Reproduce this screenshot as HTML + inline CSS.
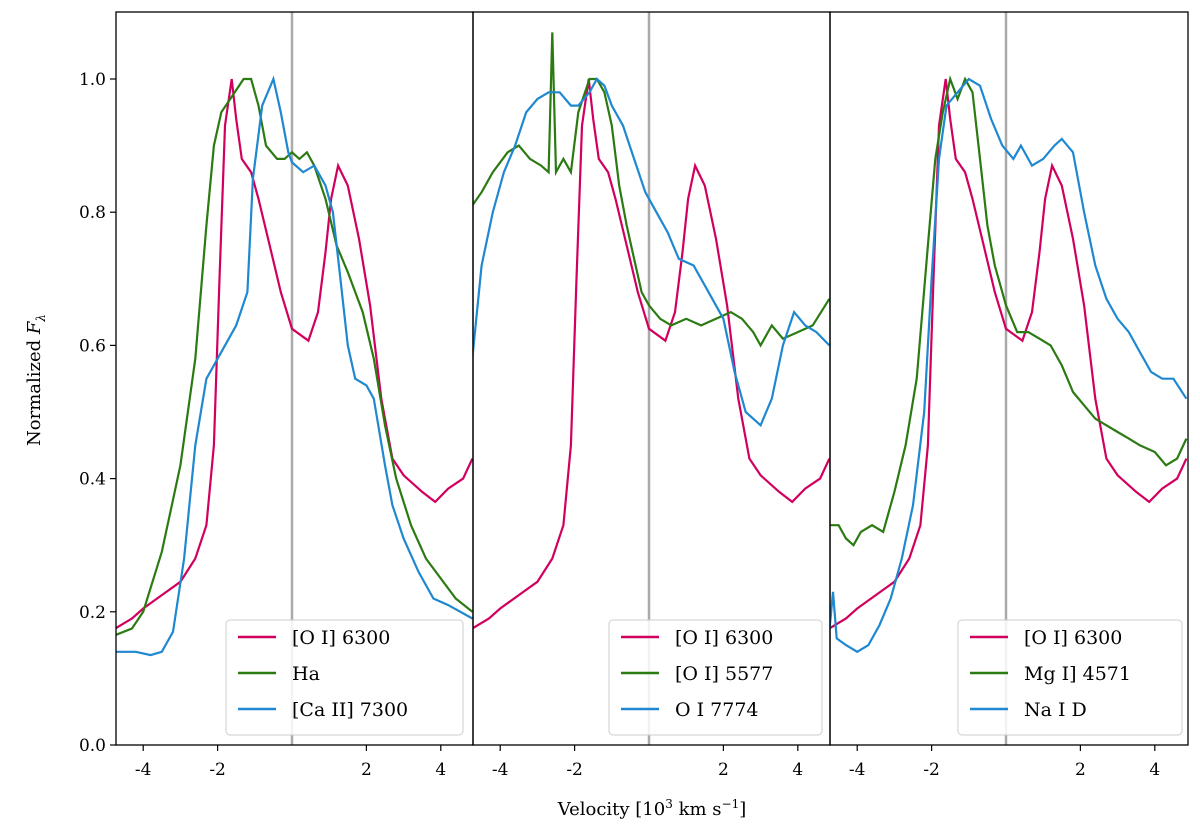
<!DOCTYPE html>
<html><head><meta charset="utf-8"><style>
body{margin:0;background:#fff;}
svg{display:block;font-family:"DejaVu Serif","Liberation Serif",serif;}
</style></head><body>
<svg id="chart" width="1200" height="839"></svg>
<script>
const oiV=[-4.75,-4.3,-4,-3.5,-3,-2.6,-2.3,-2.1,-1.95,-1.8,-1.62,-1.5,-1.35,-1.1,-0.9,-0.6,-0.3,0,0.44,0.7,0.9,1.05,1.24,1.5,1.8,2.1,2.4,2.7,3.0,3.5,3.85,4.2,4.6,4.85];
const oiF=[0.175,0.19,0.205,0.225,0.245,0.28,0.33,0.45,0.7,0.93,1.0,0.94,0.88,0.86,0.82,0.75,0.68,0.625,0.607,0.65,0.74,0.82,0.87,0.84,0.76,0.66,0.52,0.43,0.405,0.38,0.365,0.385,0.4,0.43];
const haV=[-4.75,-4.3,-4,-3.5,-3,-2.6,-2.3,-2.1,-1.9,-1.6,-1.3,-1.1,-0.9,-0.7,-0.4,-0.2,0,0.2,0.4,0.6,0.9,1.2,1.5,1.9,2.2,2.5,2.8,3.2,3.6,4.0,4.4,4.85];
const haF=[0.165,0.175,0.2,0.29,0.42,0.58,0.78,0.9,0.95,0.975,1.0,1.0,0.96,0.9,0.88,0.88,0.89,0.88,0.89,0.87,0.82,0.75,0.71,0.65,0.58,0.48,0.4,0.33,0.28,0.25,0.22,0.2];
const caV=[-4.75,-4.2,-3.8,-3.5,-3.2,-2.9,-2.6,-2.3,-2.0,-1.5,-1.2,-1.05,-0.8,-0.5,-0.3,-0.1,0,0.3,0.6,0.9,1.1,1.3,1.5,1.7,2.0,2.2,2.5,2.7,3.0,3.4,3.8,4.2,4.85];
const caF=[0.14,0.14,0.135,0.14,0.17,0.28,0.45,0.55,0.58,0.63,0.68,0.85,0.96,1.0,0.95,0.89,0.875,0.86,0.87,0.84,0.8,0.7,0.6,0.55,0.54,0.52,0.42,0.36,0.31,0.26,0.22,0.21,0.19];
const o5V=[-4.75,-4.5,-4.2,-3.8,-3.5,-3.2,-2.9,-2.7,-2.6,-2.5,-2.3,-2.1,-1.9,-1.6,-1.4,-1.2,-1.0,-0.8,-0.6,-0.4,-0.2,0,0.3,0.6,1.0,1.4,1.8,2.2,2.5,2.8,3.0,3.3,3.6,4.0,4.4,4.85];
const o5F=[0.81,0.83,0.86,0.89,0.9,0.88,0.87,0.86,1.07,0.86,0.88,0.86,0.95,1.0,1.0,0.98,0.93,0.84,0.78,0.73,0.68,0.66,0.64,0.63,0.64,0.63,0.64,0.65,0.64,0.62,0.6,0.63,0.61,0.62,0.63,0.67];
const o7V=[-4.75,-4.5,-4.2,-3.9,-3.6,-3.3,-3.0,-2.7,-2.4,-2.1,-1.9,-1.6,-1.4,-1.2,-1.0,-0.7,-0.4,-0.1,0.2,0.5,0.8,1.2,1.6,2.0,2.3,2.6,3.0,3.3,3.6,3.9,4.2,4.5,4.85];
const o7F=[0.58,0.72,0.8,0.86,0.9,0.95,0.97,0.98,0.98,0.96,0.96,0.98,1.0,0.99,0.96,0.93,0.88,0.83,0.8,0.77,0.73,0.72,0.68,0.64,0.56,0.5,0.48,0.52,0.6,0.65,0.63,0.62,0.6];
const mgV=[-4.75,-4.5,-4.3,-4.1,-3.9,-3.6,-3.3,-3.0,-2.7,-2.4,-2.1,-1.9,-1.7,-1.5,-1.3,-1.1,-0.9,-0.7,-0.5,-0.3,0,0.3,0.6,0.9,1.2,1.5,1.8,2.1,2.4,2.7,3.0,3.3,3.6,4.0,4.3,4.6,4.85];
const mgF=[0.33,0.33,0.31,0.3,0.32,0.33,0.32,0.38,0.45,0.55,0.75,0.88,0.95,1.0,0.97,1.0,0.98,0.88,0.78,0.72,0.66,0.62,0.62,0.61,0.6,0.57,0.53,0.51,0.49,0.48,0.47,0.46,0.45,0.44,0.42,0.43,0.46];
const naV=[-4.75,-4.65,-4.55,-4.3,-4.0,-3.7,-3.4,-3.1,-2.8,-2.5,-2.2,-2.0,-1.8,-1.6,-1.3,-1.0,-0.7,-0.4,-0.1,0.2,0.4,0.7,1.0,1.3,1.5,1.8,2.1,2.4,2.7,3.0,3.3,3.6,3.9,4.2,4.5,4.85];
const naF=[0.17,0.23,0.16,0.15,0.14,0.15,0.18,0.22,0.28,0.36,0.5,0.7,0.88,0.96,0.98,1.0,0.99,0.94,0.9,0.88,0.9,0.87,0.88,0.9,0.91,0.89,0.8,0.72,0.67,0.64,0.62,0.59,0.56,0.55,0.55,0.52];
const yTicks=[0.0,0.2,0.4,0.6,0.8,1.0];
const xTicks=[-4,-2,2,4];
const RED="#d1005e",GREEN="#2b7a12",BLUE="#1e88d0";
const panels=[
 {left:116,right:473,zero:292,series:[["oi6300",oiV,oiF,RED,"[O I] 6300"],["ha",haV,haF,GREEN,"Ha"],["ca7300",caV,caF,BLUE,"[Ca II] 7300"]],legX:226,legW:237},
 {left:473,right:830,zero:649,series:[["oi6300",oiV,oiF,RED,"[O I] 6300"],["oi5577",o5V,o5F,GREEN,"[O I] 5577"],["oi7774",o7V,o7F,BLUE,"O I 7774"]],legX:609,legW:213},
 {left:830,right:1188,zero:1006,series:[["oi6300",oiV,oiF,RED,"[O I] 6300"],["mg4571",mgV,mgF,GREEN,"Mg I] 4571"],["naid",naV,naF,BLUE,"Na I D"]],legX:958,legW:224}
];
const TOP=12,BOT=745,SCALE=37.2;
const yS=v=>745-v*666;
const svg=document.getElementById('chart');
const NS="http://www.w3.org/2000/svg";
function mk(tag,attrs,parent){const e=document.createElementNS(NS,tag);for(const k in attrs)e.setAttribute(k,attrs[k]);(parent||svg).appendChild(e);return e;}
panels.forEach((p,i)=>{
 const g=mk('g',{});
 
 
 const cid='clip'+i;
 const cp=mk('clipPath',{id:cid},g);mk('rect',{x:p.left,y:TOP,width:p.right-p.left,height:BOT-TOP},cp);
 const xS=v=>p.zero+v*SCALE;
 const zl=mk('line',{x1:p.zero,x2:p.zero,y1:TOP,y2:BOT,stroke:'#aaa','stroke-width':2.5},g);
 
 
 p.series.forEach(s=>{
  const d=s[1].map((v,j)=>(j?'L':'M')+xS(v).toFixed(1)+','+yS(s[2][j]).toFixed(1)).join('');
  const pa=mk('path',{d:d,fill:'none',stroke:s[3],'stroke-width':2.2,'clip-path':'url(#'+cid+')'},g);
  
  
 });
 mk('rect',{x:p.left,y:TOP,width:p.right-p.left,height:BOT-TOP,fill:'none',stroke:'#000','stroke-width':1.3},g);
 xTicks.forEach(t=>{
  mk('line',{x1:xS(t),x2:xS(t),y1:BOT,y2:BOT+6,stroke:'#000','stroke-width':1.2},g);
  const tx=mk('text',{x:xS(t),y:BOT+30,'text-anchor':'middle','font-size':17},g);tx.textContent=t;
  
  
 });
 const lg=mk('g',{},g);
 
 
 mk('rect',{x:p.legX,y:620,width:p.legW,height:115,rx:4,fill:'#fff','fill-opacity':0.85,stroke:'#ccc'},lg);
 p.series.forEach((s,j)=>{
  const yy=637+j*36;
  mk('line',{x1:p.legX+12,x2:p.legX+50,y1:yy,y2:yy,stroke:s[3],'stroke-width':2.5},lg);
  const t=mk('text',{x:p.legX+66,y:yy+7,'font-size':19},lg);t.textContent=s[4];
  
  
 });
});
yTicks.forEach(t=>{
 mk('line',{x1:110,x2:116,y1:yS(t),y2:yS(t),stroke:'#000','stroke-width':1.2});
 const tx=mk('text',{x:106,y:yS(t)+6,'text-anchor':'end','font-size':17});tx.textContent=t.toFixed(1);
 
 
});
const xt=mk('text',{x:652,y:815,'text-anchor':'middle','font-size':18});
xt.innerHTML='Velocity [10<tspan dy="-7" font-size="12">3</tspan><tspan dy="7"> km s</tspan><tspan dy="-7" font-size="12">−1</tspan><tspan dy="7">]</tspan>';


const yt=mk('text',{x:0,y:0,'text-anchor':'middle','font-size':18,transform:'translate(40,380) rotate(-90)'});
yt.innerHTML='Normalized <tspan font-style="italic">F</tspan><tspan dy="5" font-size="12" font-style="italic">λ</tspan>';


</script>
</body></html>
